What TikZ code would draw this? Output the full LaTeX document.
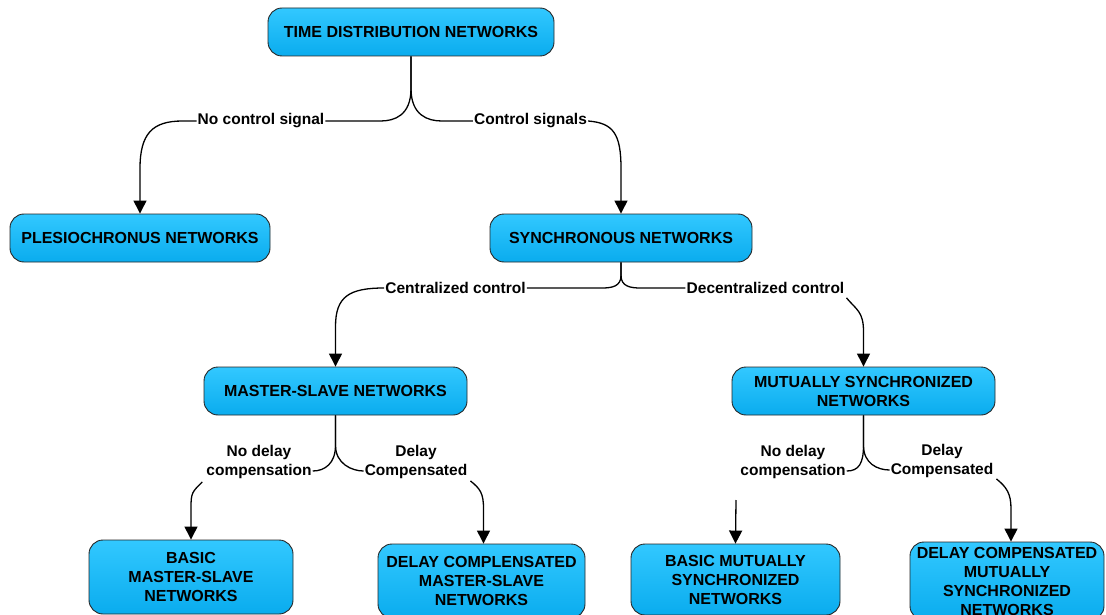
\documentclass[tikz,border=0pt]{standalone}
\usepackage{fontspec}
\setmainfont{Liberation Sans}
\usetikzlibrary{arrows.meta,calc}
\definecolor{ctop}{RGB}{50,200,255}
\definecolor{cbot}{RGB}{10,172,238}
\begin{document}
\begin{tikzpicture}[x=1pt,y=-1pt,
  txt/.style={font=\bfseries\fontsize{15.5}{19}\selectfont},
  box/.style={font=\bfseries\fontsize{16}{19}\selectfont, draw=black!85, line width=0.9pt, rounded corners=14pt,
    top color=ctop, bottom color=cbot, align=center, inner sep=2pt},
  lab/.style={txt, align=center, inner sep=1pt},
  con/.style={line width=1.3pt, black},
  arr/.style={con, -{Triangle[width=13pt,length=13pt]}}]
\useasboundingbox (0,0) rectangle (1106,615);
\clip (0,0) rectangle (1106,615);
% boxes
\node[box, minimum width=286pt, minimum height=48pt] (tdn) at (411,32) {TIME DISTRIBUTION NETWORKS};
\node[box, minimum width=260pt, minimum height=48pt] (ples) at (140,238) {PLESIOCHRONUS NETWORKS};
\node[box, minimum width=262pt, minimum height=48pt] (sync) at (621,238) {SYNCHRONOUS NETWORKS};
\node[box, minimum width=263pt, minimum height=48pt] (ms) at (335.5,391) {MASTER-SLAVE NETWORKS};
\node[box, minimum width=263pt, minimum height=48pt] (mut) at (863.5,391) {MUTUALLY SYNCHRONIZED\\NETWORKS};
\node[box, minimum width=204pt, minimum height=74pt] (bms) at (191,577) {BASIC\\MASTER-SLAVE\\NETWORKS};
\node[box, minimum width=207pt, minimum height=74pt] (dms) at (481.5,581) {DELAY COMPLENSATED\\MASTER-SLAVE\\NETWORKS};
\node[box, minimum width=209pt, minimum height=71pt] (bmut) at (735.5,579.5) {BASIC MUTUALLY\\SYNCHRONIZED\\NETWORKS};
\node[box, minimum width=194pt, minimum height=78pt, inner sep=1pt] (dmut) at (1007,581) {DELAY COMPENSATED\\MUTUALLY\\SYNCHRONIZED\\NETWORKS};
% labels
\node[lab] (l1) at (261,121) {No control signal};
\node[lab] (l2) at (530.5,121) {Control signals};
\node[lab] (l3) at (455.5,288) {Centralized control};
\node[lab] (l4) at (765.5,288) {Decentralized control};
\node[lab] (l5) at (259,462) {No delay\\compensation};
\node[lab] (l6) at (416,462) {Delay\\Compensated};
\node[lab] (l7) at (793,462) {No delay\\compensation};
\node[lab] (l8) at (942,461) {Delay\\Compensated};
\coordinate (bmtop) at (736,500);
% connectors level 1
\draw[con] (tdn.south) -- ++(0,32) .. controls +(0,27) and +(14,0) .. ($(l1.east)+(55,0)$) -- (l1.east);
\draw[con] (tdn.south) -- ++(0,32) .. controls +(0,27) and +(-14,0) .. ($(l2.west)+(-31,0)$) -- (l2.west);
\draw[arr] (l1.west) -- ++(-14,0) .. controls +(-30,0) and +(0,-35) .. ($(ples.north)+(0,-45)$) -- (ples.north);
\draw[arr] (l2.east) .. controls +(25,2) and +(0,-35) .. ($(sync.north)+(0,-45)$) -- (sync.north);
% level 2
\draw[con] (sync.south) -- ++(0,13) .. controls +(0,11) and +(10,0) .. ($(l3.east)+(75,0)$) -- (l3.east);
\draw[con] (sync.south) -- ++(0,13) .. controls +(0,11) and +(-10,0) .. ($(l4.west)+(-45,0)$) -- (l4.west);
\draw[arr] (l3.west) .. controls +(-35,0) and +(0,-30) .. ($(ms.north)+(0,-40)$) -- (ms.north);
\draw[arr] ($(l4.south east)+(1,3)$) .. controls +(10,12) and +(0,-20) .. ($(mut.north)+(0,-35)$) -- (mut.north);
% level 3 master-slave
\draw[con] (ms.south) -- ++(0,30) .. controls +(0,18) and +(12,0) .. ($(l5.east)+(0,9)$);
\draw[con] (ms.south) -- ++(0,30) .. controls +(0,18) and +(-12,0) .. ($(l6.west)+(0,9)$);
\draw[arr] ($(l5.south west)+(-3,2)$) .. controls +(-10,10) and +(0,-15) .. ($(bms.north)+(0,-32)$) -- (bms.north);
\draw[arr] ($(l6.south east)+(2,1)$) .. controls +(10,8) and +(0,-15) .. ($(dms.north)+(2,-35)$) -- ([xshift=2pt]dms.north);
% level 3 mutual
\draw[con] (mut.south) -- ++(0,30) .. controls +(0,18) and +(12,0) .. ($(l7.east)+(0,9)$);
\draw[con] (mut.south) -- ++(0,30) .. controls +(0,18) and +(-12,0) .. ($(l8.west)+(0,9)$);
\draw[arr] (bmtop) -- (bmut.north);
\draw[arr] ($(l8.south east)+(2,0)$) .. controls +(10,8) and +(0,-15) .. ($(dmut.north)+(4,-33)$) -- ([xshift=4pt]dmut.north);
\end{tikzpicture}
\end{document}
